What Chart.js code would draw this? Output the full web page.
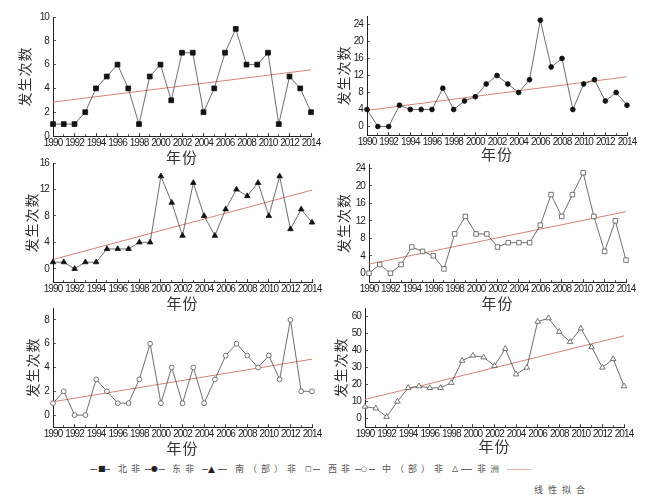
<!DOCTYPE html>
<html>
<head>
<meta charset="utf-8">
<script src="https://cdn.jsdelivr.net/npm/chart.js@4.4.0/dist/chart.umd.min.js"></script>
<style>
body { margin: 0; background: #fff; width: 656px; height: 502px; position: relative; overflow: hidden; }
.panel { position: absolute; }
.lg { position: absolute; font-family: "Noto Sans CJK SC", sans-serif; font-size: 9px; color: #555; white-space: nowrap; line-height: 12px; letter-spacing: 4px; }
.mk { position: absolute; font-family: "DejaVu Sans", sans-serif; color: #222; line-height: 12px; }
.ln { position: absolute; height: 0; border-top: 1px solid #666; }
</style>
</head>
<body>
<div id="legend"></div>
<script>
// 年份
const years = [1990, 1991, 1992, 1993, 1994, 1995, 1996, 1997, 1998, 1999, 2000, 2001, 2002,
               2003, 2004, 2005, 2006, 2007, 2008, 2009, 2010, 2011, 2012, 2013, 2014];
const xTicks = [1990, 1992, 1994, 1996, 1998, 2000, 2002, 2004, 2006, 2008, 2010, 2012, 2014];

// 各地区发生次数
const northAfrica   = [1, 1, 1, 2, 4, 5, 6, 4, 1, 5, 6, 3, 7, 7, 2, 4, 7, 9, 6, 6, 7, 1, 5, 4, 2];
const eastAfrica    = [4, 0, 0, 5, 4, 4, 4, 9, 4, 6, 7, 10, 12, 10, 8, 11, 25, 14, 16, 4, 10, 11, 6, 8, 5];
const southAfrica   = [1, 1, 0, 1, 1, 3, 3, 3, 4, 4, 14, 10, 5, 13, 8, 5, 9, 12, 11, 13, 8, 14, 6, 9, 7];
const westAfrica    = [0, 2, 0, 2, 6, 5, 4, 1, 9, 13, 9, 9, 6, 7, 7, 7, 11, 18, 13, 18, 23, 13, 5, 12, 3];
const centralAfrica = [1, 2, 0, 0, 3, 2, 1, 1, 3, 6, 1, 4, 1, 4, 1, 3, 5, 6, 5, 4, 5, 3, 8, 2, 2];
const allAfrica     = [7, 6, 1, 10, 18, 19, 18, 18, 21, 34, 37, 36, 31, 41, 26, 30, 57, 59, 51, 45, 53, 42, 30, 35, 19];

// 线性拟合 (1990 与 2014 处的值)
const northTrend   = [2.85, 5.56];
const eastTrend    = [3.8, 11.7];
const southTrend   = [1.4, 11.9];
const westTrend    = [2.1, 14.1];
const centralTrend = [1.12, 4.7];
const allTrend     = [11.2, 48.6];

// y 轴刻度
const yTicksNorth   = [0, 2, 4, 6, 8, 10];
const yTicksEast    = [0, 4, 8, 12, 16, 20, 24];
const yTicksSouth   = [0, 4, 8, 12, 16];
const yTicksWest    = [0, 4, 8, 12, 16, 20, 24];
const yTicksCentral = [0, 2, 4, 6, 8];
const yTicksAll     = [0, 10, 20, 30, 40, 50, 60];

const tickFont = "'Liberation Sans', Arial, sans-serif";
const cjkFont = "'Noto Sans CJK SC', sans-serif";

// 面板: 数据 + 绘图区位置
const panels = [
  { values: northAfrica, trend: northTrend, yTicks: yTicksNorth, yMin: 0, yMax: 10,
    style: 'rect', filled: true, radius: 3.4,
    box: { x: 0, left: 53, right: 311, top: 17, bottom: 136, xTitle: 157, yTitle: 25 } },
  { values: eastAfrica, trend: eastTrend, yTicks: yTicksEast, yMin: -2, yMax: 26,
    style: 'circle', filled: true, radius: 2.4,
    box: { x: 328, left: 367, right: 627, top: 16, bottom: 135, xTitle: 154, yTitle: 344 } },
  { values: southAfrica, trend: southTrend, yTicks: yTicksSouth, yMin: -2, yMax: 16,
    style: 'triangle', filled: true, radius: 3.2,
    box: { x: 0, left: 53, right: 312, top: 163, bottom: 282, xTitle: 303, yTitle: 32 } },
  { values: westAfrica, trend: westTrend, yTicks: yTicksWest, yMin: -2, yMax: 25,
    style: 'rect', filled: false, radius: 3.2,
    box: { x: 328, left: 369, right: 626, top: 164, bottom: 282, xTitle: 303, yTitle: 344 } },
  { values: centralAfrica, trend: centralTrend, yTicks: yTicksCentral, yMin: -1, yMax: 9,
    style: 'circle', filled: false, radius: 2.4,
    box: { x: 0, left: 53, right: 312, top: 308, bottom: 427, xTitle: 448, yTitle: 33 } },
  { values: allAfrica, trend: allTrend, yTicks: yTicksAll, yMin: -5, yMax: 65,
    style: 'triangle', filled: false, radius: 3.2,
    box: { x: 328, left: 365, right: 624, top: 308, bottom: 427, xTitle: 446, yTitle: 341 } }
];

// 标题稍宽, 刻度数字收窄 (刻度标签 z=1, 在数据之后绘制)
const textSpacing = {
  id: 'textSpacing',
  beforeDraw(chart) { chart.ctx.letterSpacing = '1px'; },
  afterDatasetsDraw(chart) { chart.ctx.letterSpacing = '-0.9px'; }
};

function makePanel(p) {
  const b = p.box;
  const w = 328;
  const top = b.top - 17;
  const h = b.xTitle + 9 - top;

  const div = document.createElement('div');
  div.className = 'panel';
  div.style.left = b.x + 'px';
  div.style.top = top + 'px';
  div.style.width = w + 'px';
  div.style.height = h + 'px';
  const cv = document.createElement('canvas');
  cv.width = w;
  cv.height = h;
  div.appendChild(cv);
  document.body.appendChild(div);

  new Chart(cv.getContext('2d'), {
    type: 'line',
    plugins: [textSpacing],
    data: {
      datasets: [
        {
          data: years.map((x, i) => ({ x: x, y: p.values[i] })),
          borderColor: '#4a4a4a',
          borderWidth: 0.8,
          pointStyle: p.style,
          pointRadius: p.radius,
          pointBackgroundColor: p.filled ? '#111' : '#fff',
          pointBorderColor: p.filled ? '#111' : '#555',
          pointBorderWidth: 0.8,
          tension: 0,
          clip: false
        },
        {
          data: [{ x: years[0], y: p.trend[0] }, { x: years[years.length - 1], y: p.trend[1] }],
          borderColor: 'rgb(214,130,120)',
          borderWidth: 1,
          pointRadius: 0,
          clip: false
        }
      ]
    },
    options: {
      responsive: false,
      animation: false,
      layout: { padding: { top: 17, left: 0, bottom: 0, right: b.x + w - b.right } },
      plugins: { legend: { display: false }, tooltip: { enabled: false } },
      scales: {
        x: {
          type: 'linear', min: 1990, max: 2014, position: 'bottom', weight: 1,
          afterBuildTicks: s => { s.ticks = xTicks.map(v => ({ value: v })); },
          afterFit: s => { s.height = h - (b.bottom - top); },
          grid: { drawOnChartArea: false, drawTicks: true, tickLength: -3, color: '#333', lineWidth: 0.8 },
          border: { display: true, color: '#222', width: 1 },
          ticks: { z: 1, padding: 4, autoSkip: false, maxRotation: 0, color: '#222',
                   font: { family: tickFont, size: 10 }, callback: v => String(v) },
          title: { display: true, text: '年份', color: '#333',
                   font: { family: cjkFont, size: 15 }, padding: { top: 0, bottom: 0 } }
        },
        xMinor: {
          type: 'linear', min: 1990, max: 2014, position: 'bottom', weight: 0,
          afterBuildTicks: s => { s.ticks = years.map(v => ({ value: v })); },
          afterFit: s => { s.height = 0; },
          grid: { drawOnChartArea: false, drawTicks: true, tickLength: -2, color: '#333', lineWidth: 0.8 },
          border: { display: false },
          ticks: { display: false }
        },
        y: {
          min: p.yMin, max: p.yMax,
          afterBuildTicks: s => { s.ticks = p.yTicks.map(v => ({ value: v })); },
          afterFit: s => { s.width = b.left - b.x; },
          grid: { drawOnChartArea: false, drawTicks: true, tickLength: -3, color: '#333', lineWidth: 0.8 },
          border: { display: true, color: '#222', width: 1 },
          ticks: { z: 1, padding: 7, color: '#222', font: { family: tickFont, size: 10 } },
          title: { display: true, text: '发生次数', color: '#333',
                   font: { family: cjkFont, size: 14 }, padding: { top: b.yTitle - b.x - 8.4, bottom: 0 } }
        }
      }
    }
  });
}

panels.forEach(makePanel);

// 图例
const legendItems = [
  { l1: [90, 97], mark: '■', mx: 98, size: 8, l2: [105, 110], text: '北非', tx: 118 },
  { l1: [145, 151], mark: '●', mx: 151, size: 8, l2: [159, 165], text: '东非', tx: 172 },
  { l1: [202, 208], mark: '▲', mx: 208, size: 9, l2: [218, 227], text: '南（部）非', tx: 235 },
  { l1: null, mark: '□', mx: 305, size: 7, l2: [313, 320], text: '西非', tx: 328 },
  { l1: [355, 361], mark: '○', mx: 361, size: 7, l2: [369, 375], text: '中（部）非', tx: 382 },
  { l1: null, mark: '△', mx: 452, size: 8, l2: [461, 472], text: '非洲', tx: 477 }
];
const lg = document.getElementById('legend');
const rowY = 463;
function addLine(x1, x2, y, color) {
  const d = document.createElement('div');
  d.className = 'ln';
  d.style.left = x1 + 'px';
  d.style.width = (x2 - x1) + 'px';
  d.style.top = y + 'px';
  if (color) d.style.borderTopColor = color;
  lg.appendChild(d);
}
legendItems.forEach(it => {
  if (it.l1) addLine(it.l1[0], it.l1[1], rowY + 6);
  addLine(it.l2[0], it.l2[1], rowY + 6);
  const m = document.createElement('div');
  m.className = 'mk';
  m.style.left = it.mx + 'px';
  m.style.top = rowY + 'px';
  m.style.fontSize = it.size + 'px';
  m.textContent = it.mark;
  lg.appendChild(m);
  const t = document.createElement('div');
  t.className = 'lg';
  t.style.left = it.tx + 'px';
  t.style.top = rowY + 'px';
  t.textContent = it.text;
  lg.appendChild(t);
});
addLine(507, 531, rowY + 6, 'rgb(220,180,170)');
const fit = document.createElement('div');
fit.className = 'lg';
fit.style.left = '534px';
fit.style.top = (rowY + 21) + 'px';
fit.style.letterSpacing = '5px';
fit.textContent = '线性拟合';
lg.appendChild(fit);
</script>
</body>
</html>
